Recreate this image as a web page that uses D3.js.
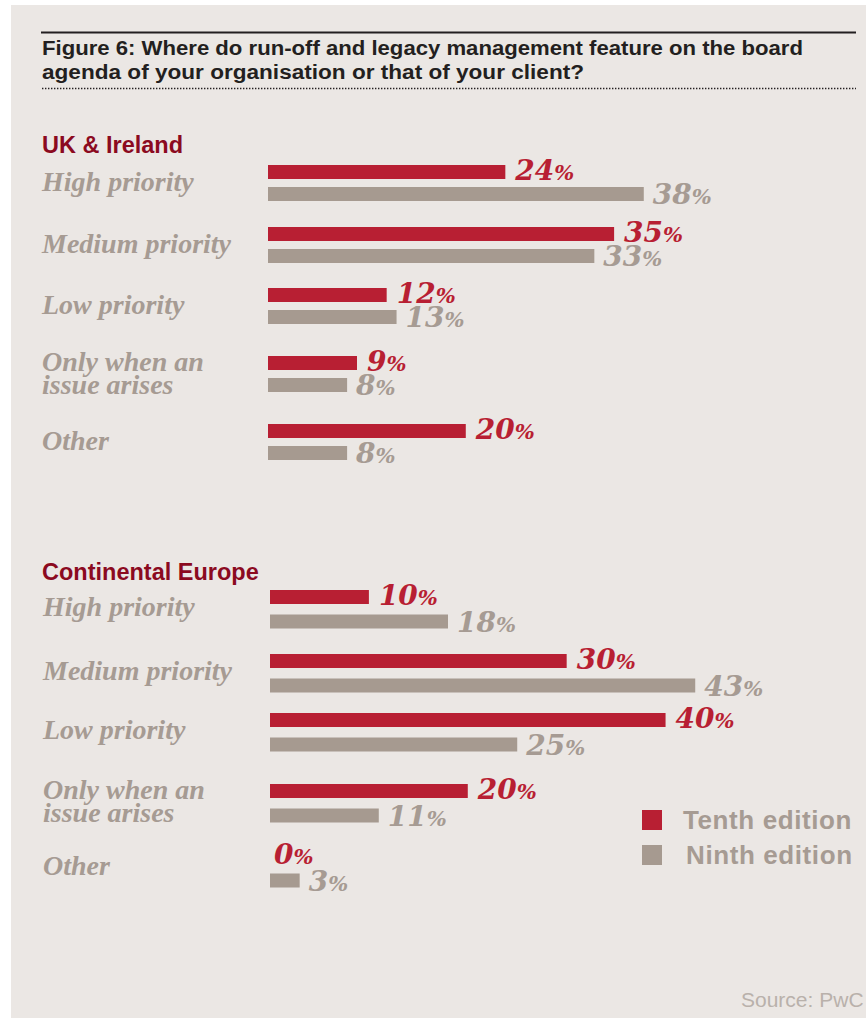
<!DOCTYPE html>
<html>
<head>
<meta charset="utf-8">
<script src="https://cdn.jsdelivr.net/npm/d3@7"></script>
<style>
  html, body { margin: 0; padding: 0; background: #ffffff; }
  svg { display: block; }
</style>
</head>
<body>
<svg id="chart" width="866" height="1018"></svg>
<script>
// ---- data ----
const titleLines = [
  "Figure 6: Where do run-off and legacy management feature on the board",
  "agenda of your organisation or that of your client?"
];
const regions = ["UK & Ireland", "Continental Europe"];
const categories = ["High priority", "Medium priority", "Low priority", "Only when an\nissue arises", "Other"];
const seriesNames = ["Tenth edition", "Ninth edition"];
const ukTenth = [24, 35, 12, 9, 20];
const ukNinth = [38, 33, 13, 8, 8];
const ceTenth = [10, 30, 40, 20, 0];
const ceNinth = [18, 43, 25, 11, 3];
const sourceText = "Source: PwC";

// ---- styles ----
const C = {
  bg: "#ebe7e4",
  red: "#b81f33",
  grey: "#a69a90",
  greyText: "#a69b93",
  regionTitle: "#8b0a1f",
  title: "#231f20",
  source: "#b9b1ab"
};
const barH = 14;

const svg = d3.select("#chart");

// panel background
svg.append("rect").attr("x", 11).attr("y", 5).attr("width", 855).attr("height", 1013).attr("fill", C.bg);

// heading rules and title
svg.append("line").attr("x1", 41).attr("x2", 856).attr("y1", 32.5).attr("y2", 32.5)
  .attr("stroke", C.title).attr("stroke-width", 2);
const titleWidths = [761, 542];
titleLines.forEach((t, i) => {
  svg.append("text")
    .attr("x", 42).attr("y", 55 + i * 24)
    .attr("font-family", "'Liberation Sans Narrow', 'Liberation Sans', Arial, sans-serif")
    .attr("font-weight", 700).attr("font-size", 20)
    .attr("textLength", titleWidths[i]).attr("lengthAdjust", "spacingAndGlyphs")
    .attr("fill", C.title).text(t);
});
svg.append("line").attr("x1", 42).attr("x2", 856).attr("y1", 88.5).attr("y2", 88.5)
  .attr("stroke", C.title).attr("stroke-width", 1.6).attr("stroke-dasharray", "1.4,1.6");

// shared value scale
const x = d3.scaleLinear().domain([0, 45]).range([0, 445]);

const sections = [
  { name: regions[0], tenth: ukTenth, ninth: ukNinth, titleY: 153, x0: 268, labelX: 42,
    tops: [165, 227, 288, 356, 424], pairGap: 22 },
  { name: regions[1], tenth: ceTenth, ninth: ceNinth, titleY: 580, x0: 270, labelX: 43,
    tops: [590, 654, 713, 784, 849], pairGap: 24.5 }
];

function valueLabel(g, xPos, yBase, v, color) {
  const t = g.append("text")
    .attr("x", xPos).attr("y", yBase)
    .attr("font-family", "'DejaVu Serif', Georgia, serif")
    .attr("font-weight", 700).attr("font-style", "italic")
    .attr("fill", color);
  t.append("tspan").attr("font-size", 28).text(v);
  t.append("tspan").attr("font-size", 21).text("%");
}

sections.forEach(s => {
  const g = svg.append("g");
  const y = d3.scaleOrdinal().domain(categories).range(s.tops);

  g.append("text")
    .attr("x", 42).attr("y", s.titleY)
    .attr("font-family", "'Liberation Sans', Arial, sans-serif")
    .attr("font-weight", 700).attr("font-size", 23.5)
    .attr("fill", C.regionTitle).text(s.name);

  categories.forEach((cat, i) => {
    const top = y(cat);
    const lines = cat.split("\n");
    const lab = g.append("text")
      .attr("font-family", "'Liberation Serif', 'Times New Roman', serif")
      .attr("font-weight", 700).attr("font-style", "italic").attr("font-size", 28)
      .attr("fill", C.greyText);
    if (lines.length === 1) {
      lab.append("tspan").attr("x", s.labelX).attr("y", top + 26).text(lines[0]);
    } else {
      lines.forEach((ln, j) => lab.append("tspan").attr("x", s.labelX).attr("y", top + 15 + j * 23).text(ln));
    }

    const vT = s.tenth[i], vN = s.ninth[i];
    const topN = top + s.pairGap;
    g.append("rect").attr("x", s.x0).attr("y", top).attr("width", x(vT)).attr("height", barH).attr("fill", C.red);
    g.append("rect").attr("x", s.x0).attr("y", topN).attr("width", x(vN)).attr("height", barH).attr("fill", C.grey);
    valueLabel(g, s.x0 + x(vT) + (vT === 0 ? 4 : 10), top + barH + 1, vT, C.red);
    valueLabel(g, s.x0 + x(vN) + 9, topN + barH + 3, vN, C.greyText);
  });
});

// legend
const legend = svg.append("g");
const legendColors = [C.red, C.grey];
seriesNames.forEach((n, i) => {
  legend.append("rect").attr("x", 642).attr("y", 810 + i * 35).attr("width", 20).attr("height", 20).attr("fill", legendColors[i]);
  legend.append("text")
    .attr("x", 683 + i * 3).attr("y", 829 + i * 35)
    .attr("font-family", "'Liberation Sans', Arial, sans-serif")
    .attr("font-weight", 700).attr("font-size", 26).attr("letter-spacing", 0.6)
    .attr("fill", C.greyText).text(n);
});

// source note
svg.append("text").attr("x", 741).attr("y", 1007)
  .attr("font-family", "'Liberation Sans', Arial, sans-serif")
  .attr("font-size", 21).attr("fill", C.source).text(sourceText);
</script>
</body>
</html>
